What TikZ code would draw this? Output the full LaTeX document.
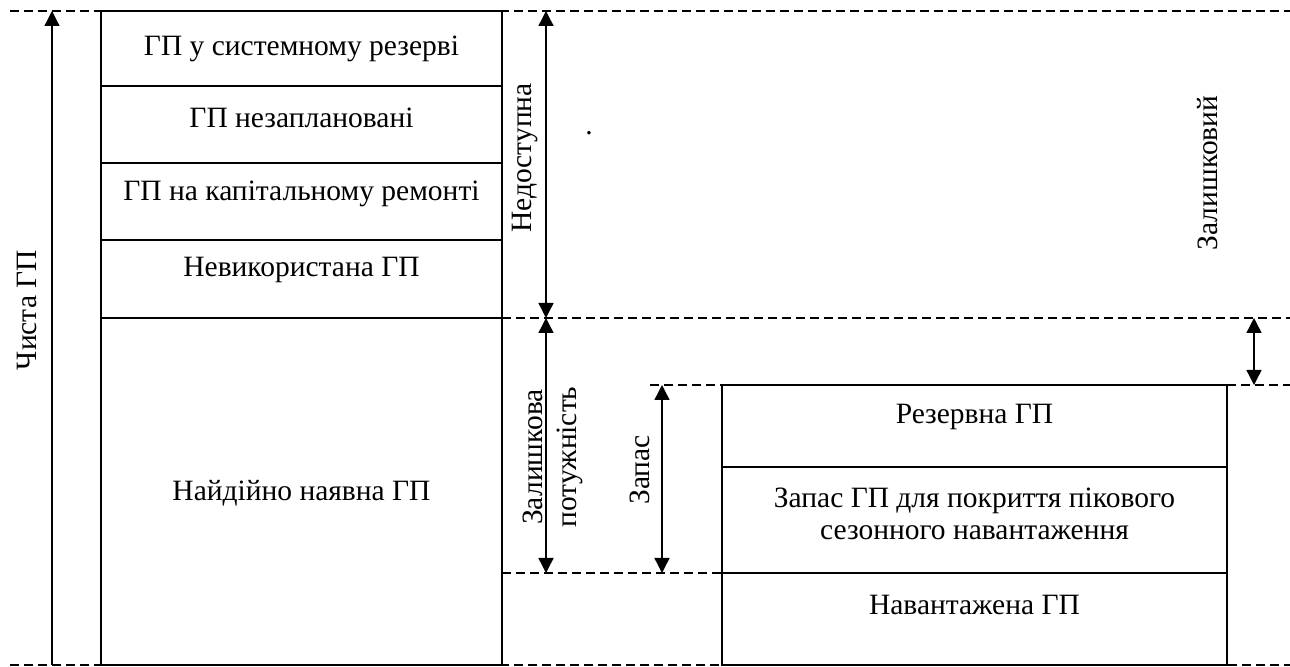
\documentclass[tikz,border=0pt]{standalone}
\usepackage{fontspec}
\setmainfont{Liberation Serif}
\usetikzlibrary{arrows.meta,positioning}
\begin{document}
\begin{tikzpicture}[x=0.5pt,y=-0.5pt,
 cell/.style={draw,line width=1pt,inner sep=0pt,outer sep=0pt},
 txt/.style={inner sep=0pt,align=center,font=\fontsize{14.75}{16}\selectfont},
 lcell/.style={cell,minimum width=200.5pt},
 rcell/.style={cell,minimum width=252.5pt},
 guide/.style={line width=0.7pt,dash pattern=on 4.5pt off 2.5pt},
 dim/.style={line width=0.7pt,{Triangle[width=7.5pt,length=7.5pt]}-{Triangle[width=7.5pt,length=7.5pt]}},
 lbl/.style={txt,rotate=90}]
\useasboundingbox (0,0) rectangle (1290,667);
\node [lcell,minimum height=37.5pt,anchor=north west,label={[txt]center:ГП у системному резерві}] (sysres) at (101,11) {};
\node [lcell,minimum height=38.5pt,below=0pt of sysres,label={[txt,yshift=3.5pt]center:ГП незаплановані}] (unplan) {};
\node [lcell,minimum height=38.5pt,below=0pt of unplan,label={[txt,yshift=4pt]center:ГП на капітальному ремонті}] (repair) {};
\node [lcell,minimum height=39pt,below=0pt of repair,label={[txt,yshift=4.5pt]center:Невикористана ГП}] (unused) {};
\node [lcell,minimum height=173.5pt,below=0pt of unused,label={[txt,yshift=-1pt]center:Найдійно наявна ГП}] (reliab) {};
\node [rcell,minimum height=41pt,anchor=north west,label={[txt,yshift=4.5pt]center:Резервна ГП}] (reserve) at (722,385) {};
\node [rcell,minimum height=53pt,below=0pt of reserve,label={[txt,yshift=3pt]center:Запас ГП для покриття пікового\\сезонного навантаження}] (peak) {};
\node [rcell,minimum height=46pt,below=0pt of peak,label={[txt,yshift=7pt]center:Навантажена ГП}] (loaded) {};
\coordinate (topl) at (10,11);
\coordinate (topr) at (1290,11);
\coordinate (botl) at (10,665);
\coordinate (botr) at (1290,665);
\draw [guide] (topl) -- (topr);
\draw [guide] (botl) -- (botr);
\draw [guide] (reliab.north east) -- (reliab.north east -| topr);
\draw [guide] (650,385) -- (reserve.north west);
\draw [guide] (reserve.north east) -- (reserve.north east -| topr);
\draw [guide] (reliab.east |- loaded.north) -- (loaded.north west);
\coordinate (net) at (52,665);
\draw [line width=0.6pt,-{Triangle[width=7.5pt,length=7.5pt]}] (net) -- (net |- topl);
\node [lbl] (netlbl) at (27,310) {Чиста ГП};
\coordinate (na) at (546,11);
\draw [dim] (na) -- (na |- reliab.north);
\node [lbl] (nalbl) at (525,158) {Недоступна};
\coordinate (rest) at (546,573);
\draw [dim] (rest |- reliab.north) -- (rest);
\node [lbl] (restlbla) at (533,457) {Залишкова};
\node [lbl] (restlblb) at (570,457) {потужність};
\coordinate (marg) at (662,385);
\draw [dim] (marg) -- (marg |- loaded.north);
\node [lbl] (marglbl) at (640,470) {Запас};
\coordinate (gap) at (1254,318);
\draw [dim] (gap) -- (gap |- reserve.north);
\node [lbl] (gaplbl) at (1208,173) {Залишковий};
\node [txt] (dot) at (589,133) {.};
\end{tikzpicture}
\end{document}
